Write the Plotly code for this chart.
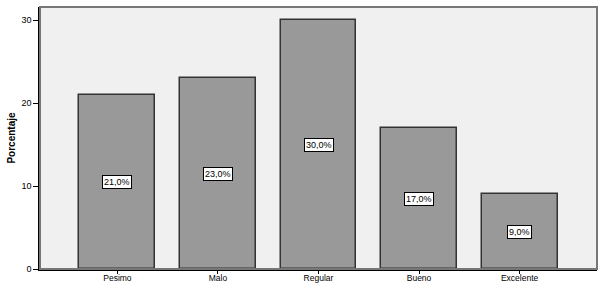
import plotly.graph_objects as go

categories = ["Pesimo", "Malo", "Regular", "Bueno", "Excelente"]
values = [21.0, 23.0, 30.0, 17.0, 9.0]
labels = [f"{v:.1f}%".replace(".", ",") for v in values]
y_ticks = [0, 10, 20, 30]

fig = go.Figure()
fig.add_trace(go.Bar(
    x=categories, y=values, width=0.755,
    marker=dict(color="#999999", line=dict(color="#333333", width=1.5)),
    hoverinfo="skip",
))
for c, v, t in zip(categories, values, labels):
    fig.add_annotation(x=c, y=v / 2, text=t, showarrow=False,
                       font=dict(family="Liberation Sans, Arial", size=9, color="black"),
                       bgcolor="white", bordercolor="black", borderwidth=1, borderpad=1)

fig.add_shape(type="rect", xref="paper", yref="paper", x0=0, y0=0, x1=1, y1=1,
              line=dict(color="#777777", width=2), layer="above")

fig.update_layout(
    width=602, height=285,
    margin=dict(l=40, r=5, t=7, b=16),
    paper_bgcolor="white", plot_bgcolor="#f0f0f0",
    showlegend=False,
    font=dict(family="Liberation Sans, Arial", size=9, color="black"),
    bargap=0,
)
fig.update_xaxes(range=[-0.77, 4.77], showline=True, linecolor="black", linewidth=1.5,
                 ticks="outside", ticklen=3, tickcolor="black", showgrid=False,
                 tickfont=dict(size=8.5), automargin=False, ticklabelstandoff=-3)
fig.update_yaxes(range=[0, 31.6], tickvals=y_ticks, showline=True, linecolor="black",
                 linewidth=1.5, ticks="outside", ticklen=5, tickcolor="black",
                 showgrid=False, zeroline=False, tickfont=dict(size=9), automargin=False,
                 title=dict(text="<b>Porcentaje</b>", font=dict(size=10), standoff=4))

fig.write_html("out.html")
